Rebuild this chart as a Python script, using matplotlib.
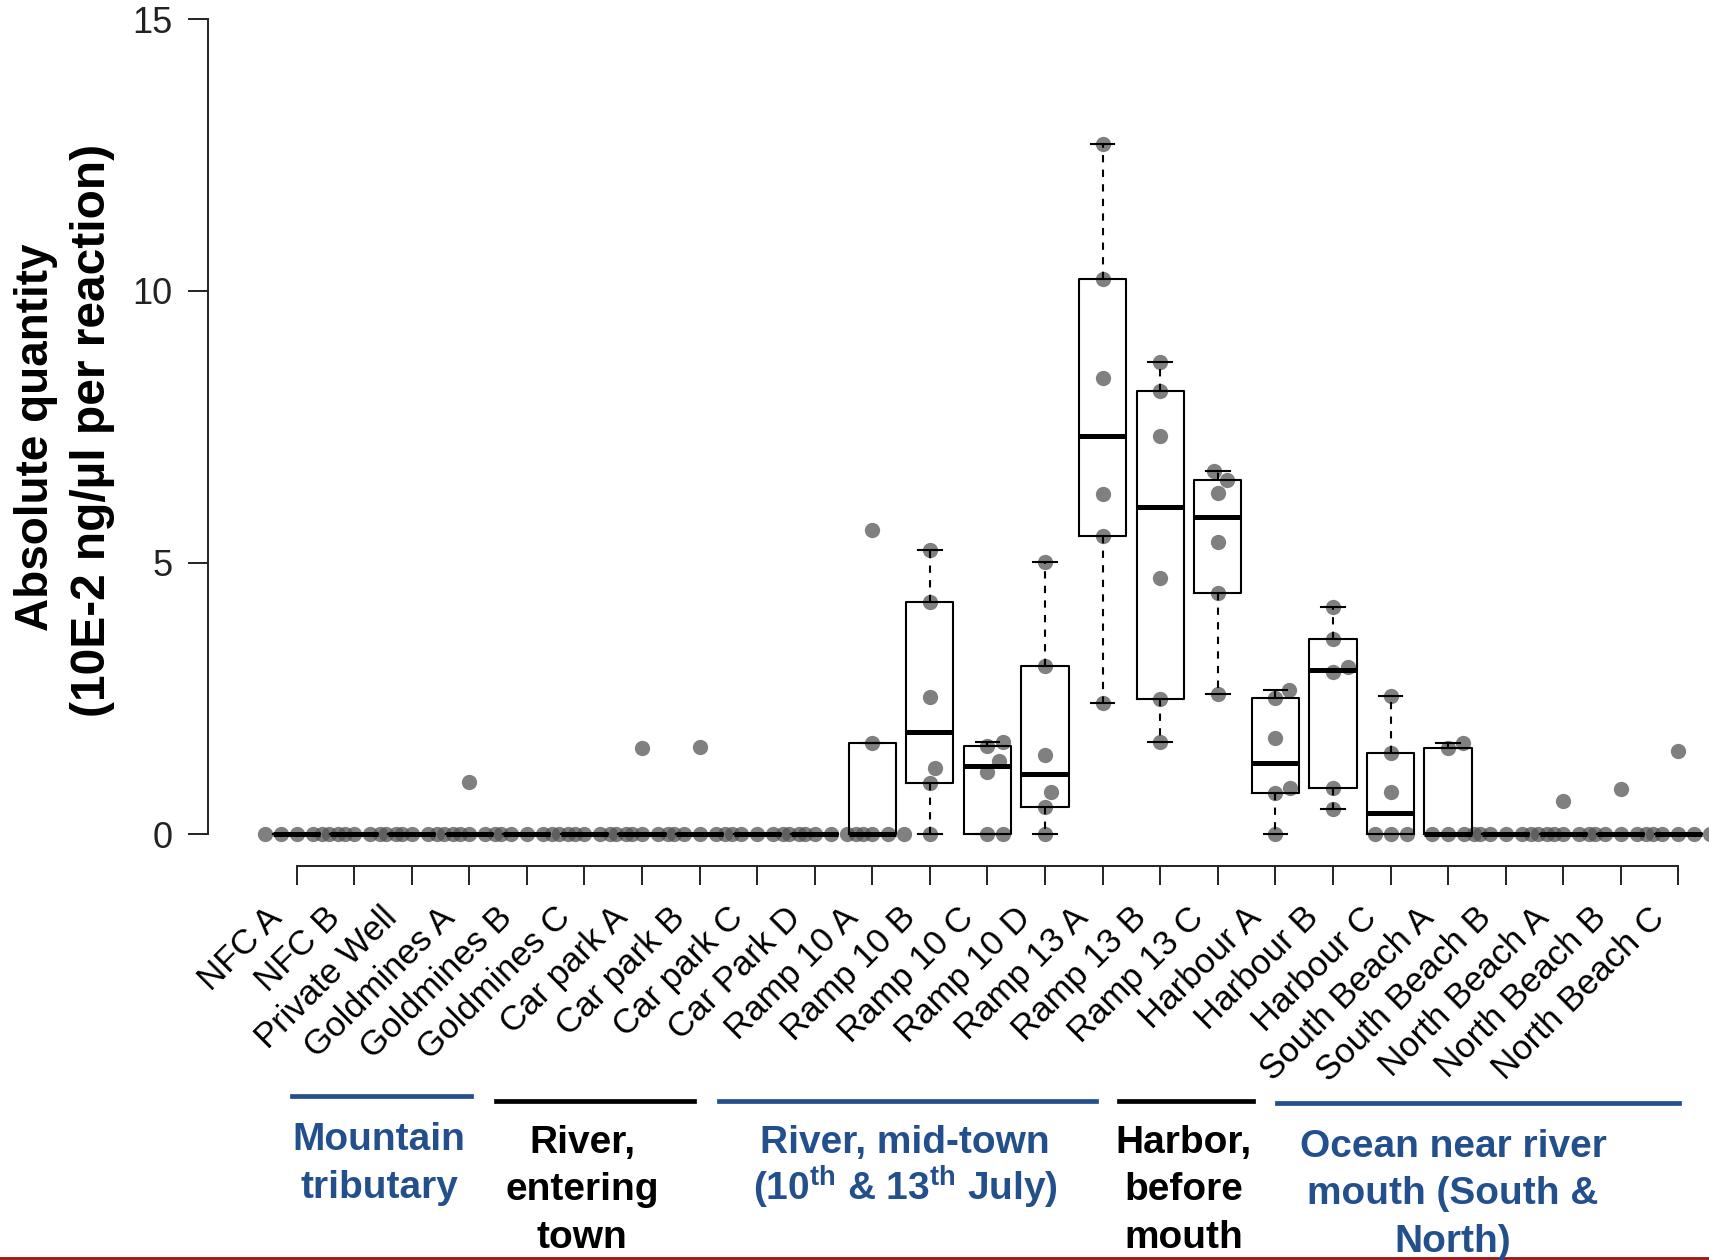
import numpy as np
import matplotlib
matplotlib.use("Agg")
import matplotlib.pyplot as plt
from matplotlib.transforms import offset_copy

plt.rcParams['font.family'] = ['Liberation Sans', 'DejaVu Sans']
plt.rcParams['mathtext.fontset'] = 'custom'
plt.rcParams['mathtext.rm'] = 'Liberation Sans:bold'
plt.rcParams['mathtext.bf'] = 'Liberation Sans:bold'
plt.rcParams['mathtext.it'] = 'Liberation Sans:bold'

# ---------------- data ----------------
categories = ["NFC A", "NFC B", "Private Well", "Goldmines A", "Goldmines B",
              "Goldmines C", "Car park A", "Car park B", "Car park C", "Car Park D",
              "Ramp 10 A", "Ramp 10 B", "Ramp 10 C", "Ramp 10 D", "Ramp 13 A",
              "Ramp 13 B", "Ramp 13 C", "Harbour A", "Harbour B", "Harbour C",
              "South Beach A", "South Beach B", "North Beach A", "North Beach B",
              "North Beach C"]

nfc_a = [0, 0, 0, 0, 0, 0]
nfc_b = [0, 0, 0, 0, 0, 0]
private_well = [0, 0, 0, 0, 0, 0]
goldmines_a = [0, 0, 0, 0, 0, 0.96]
goldmines_b = [0, 0, 0, 0, 0, 0]
goldmines_c = [0, 0, 0, 0, 0, 0]
car_park_a = [0, 0, 0, 0, 0, 1.58]
car_park_b = [0, 0, 0, 0, 0, 1.60]
car_park_c = [0, 0, 0, 0, 0, 0]
car_park_d = [0, 0, 0, 0, 0, 0]
ramp_10a = [0, 0, 0, 0, 1.68, 5.60]
ramp_10b = [0, 0.94, 1.22, 2.52, 4.27, 5.23]
ramp_10c = [0, 0, 1.15, 1.35, 1.62, 1.70]
ramp_10d = [0, 0.50, 0.77, 1.45, 3.09, 5.01]
ramp_13a = [2.41, 5.49, 6.26, 8.40, 10.22, 12.70]
ramp_13b = [1.70, 2.49, 4.71, 7.33, 8.16, 8.69]
ramp_13c = [2.58, 4.44, 5.38, 6.28, 6.52, 6.69]
harbour_a = [0, 0.75, 0.85, 1.77, 2.50, 2.65]
harbour_b = [0.46, 0.85, 2.98, 3.07, 3.59, 4.18]
harbour_c = [0, 0, 0, 0.78, 1.49, 2.54]
south_beach_a = [0, 0, 0, 0, 1.58, 1.67]
south_beach_b = [0, 0, 0, 0, 0, 0]
north_beach_a = [0, 0, 0, 0, 0, 0.61]
north_beach_b = [0, 0, 0, 0, 0, 0.82]
north_beach_c = [0, 0, 0, 0, 0, 1.53]

series = [nfc_a, nfc_b, private_well, goldmines_a, goldmines_b, goldmines_c,
          car_park_a, car_park_b, car_park_c, car_park_d, ramp_10a, ramp_10b,
          ramp_10c, ramp_10d, ramp_13a, ramp_13b, ramp_13c, harbour_a, harbour_b,
          harbour_c, south_beach_a, south_beach_b, north_beach_a, north_beach_b,
          north_beach_c]

y_ticks = [0, 5, 10, 15]

group_lines = [  # (label lines, colour key, line x0 px, x1 px, line y px)
    (["Mountain", "tributary"], "blue", 292, 471, 1096),
    (["River,", "entering", "town"], "black", 496, 694, 1101),
    (["River, mid-town", r"(10$^{\mathrm{th}}$ & 13$^{\mathrm{th}}$ July)"], "blue", 719, 1096, 1101),
    (["Harbor,", "before", "mouth"], "black", 1119, 1253, 1101),
    (["Ocean near river", "mouth (South &", "North)"], "blue", 1277, 1679, 1103),
]
group_text_x = [379, 582, 905, 1184, 1453]
group_text_y0 = [1150, 1153, 1153, 1153, 1157]

# ---------------- figure ----------------
W, H, DPI = 1709, 1260, 100
fig = plt.figure(figsize=(W / DPI, H / DPI), dpi=DPI)
ax_left, ax_right, ax_bottom_px, ax_top_px = 208, 1709, 866, 0
ax = fig.add_axes([ax_left / W, 1 - ax_bottom_px / H,
                   (ax_right - ax_left) / W, (ax_bottom_px - ax_top_px) / H])

x0_px, dx_px = 296.5, 57.58
y0_px, dy_px = 834, 54.3
ax.set_xlim((ax_left - x0_px) / dx_px, (ax_right - x0_px) / dx_px)
ax.set_ylim(-(ax_bottom_px - y0_px) / dy_px, (y0_px - ax_top_px) / dy_px)

blue = '#234F8D'

# beeswarm layout (in pixel space)
def swarm_offsets(vals, d):
    ys = np.array([ax.transData.transform((0, v))[1] for v in vals])
    order = np.argsort(ys, kind='stable')
    placed = []
    offs = np.zeros(len(vals))
    for idx in order:
        y = ys[idx]
        cands = [0.0]
        for (px, py) in placed:
            ddy = abs(y - py)
            if ddy < d:
                ddx = np.sqrt(d * d - ddy * ddy)
                cands += [px + ddx, px - ddx]
        valid = [c for c in cands
                 if all((c - px) ** 2 + (y - py) ** 2 >= d * d - 1e-6 for px, py in placed)]
        best = min(valid, key=lambda c: (round(abs(c), 6), -c))
        offs[idx] = best
        placed.append((best, y))
    return offs

px_per_unit_x = ax.transData.transform((1, 0))[0] - ax.transData.transform((0, 0))[0]
for i, vals in enumerate(series):
    offs = swarm_offsets(vals, 16.0)
    ax.plot(i + offs / px_per_unit_x, vals, 'o', color='#555555', alpha=0.75,
            markersize=11, markeredgewidth=0, zorder=2, clip_on=False)

# box statistics (Tukey hinges as in R)
def fivenum(v):
    x = np.sort(np.asarray(v, float))
    n = len(x)
    n4 = np.floor((n + 3) / 2) / 2
    d = np.array([1, n4, (n + 1) / 2, n + 1 - n4, n]) - 1
    return 0.5 * (x[np.floor(d).astype(int)] + x[np.ceil(d).astype(int)])

stats = []
for vals in series:
    mn, q1, med, q3, mx = fivenum(vals)
    iqr = q3 - q1
    arr = np.asarray(vals, float)
    lo = arr[arr >= q1 - 1.5 * iqr].min()
    hi = arr[arr <= q3 + 1.5 * iqr].max()
    stats.append(dict(med=med, q1=q1, q3=q3, whislo=lo, whishi=hi, fliers=[]))

ax.bxp(stats, positions=np.arange(len(series)), widths=0.82, showfliers=False,
       patch_artist=False, manage_ticks=False,
       boxprops=dict(color='black', linewidth=1.5),
       whiskerprops=dict(color='black', linewidth=1.5, linestyle=(0, (3.5, 3.5))),
       capprops=dict(color='black', linewidth=1.5),
       medianprops=dict(color='black', linewidth=3.6, solid_capstyle='butt'),
       zorder=3)

# axes styling (R-like)
for s in ['top', 'right']:
    ax.spines[s].set_visible(False)
ax.spines['left'].set_bounds(0, 15)
ax.spines['bottom'].set_bounds(0, len(categories) - 1)
for s in ['left', 'bottom']:
    ax.spines[s].set_linewidth(1.4)
    ax.spines[s].set_color('#222222')
ax.set_yticks(y_ticks)
ax.set_yticklabels([str(t) for t in y_ticks])
ax.tick_params(axis='y', length=14.5, width=1.4, pad=11, labelsize=26,
               colors='#222222', direction='out')
ax.set_xticks(np.arange(len(categories)))
ax.set_xticklabels([])
ax.tick_params(axis='x', length=13.7, width=1.4, direction='out', colors='#222222')
ax.patch.set_visible(False)

lab_tr = offset_copy(ax.get_xaxis_transform(), fig=fig, x=-31, y=-35, units='dots')
for i, c in enumerate(categories):
    ax.text(i, 0, c, transform=lab_tr, rotation=45, rotation_mode='anchor',
            ha='right', va='top', fontsize=25, color='black', clip_on=False)

# y label
fig.text(36 / W, 1 - 437 / H, "Absolute quantity", rotation=90, ha='center',
         va='center', fontsize=33, fontweight='bold')
fig.text(93 / W, 1 - 430 / H, "(10E-2 ng/\u00b5l per reaction)", rotation=90,
         ha='center', va='center', fontsize=34.5, fontweight='bold')

# group annotations
for (lines, ckey, lx0, lx1, ly), tx, ty0 in zip(group_lines, group_text_x, group_text_y0):
    col = blue if ckey == 'blue' else 'black'
    fig.add_artist(plt.Line2D([lx0 / W, lx1 / W], [1 - ly / H, 1 - ly / H],
                              color=col, linewidth=3.4, transform=fig.transFigure))
    for k, t in enumerate(lines):
        fig.text(tx / W, 1 - (ty0 + 47.5 * k) / H, t, ha='center', va='baseline',
                 fontsize=28, fontweight='bold', color=col)

# dark red line at the bottom edge
fig.add_artist(plt.Line2D([0, 1], [1 - 1258 / H, 1 - 1258 / H], color='#A01010',
                          linewidth=2.0, transform=fig.transFigure))

fig.savefig("out.png", dpi=DPI)
